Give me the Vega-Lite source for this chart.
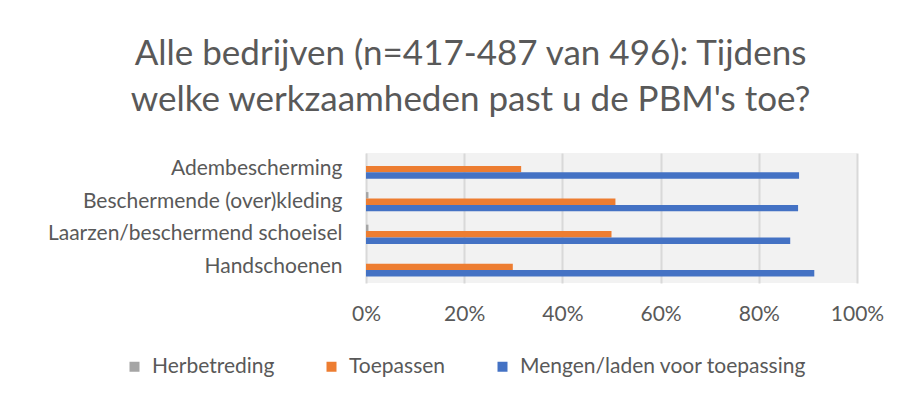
{
  "$schema": "https://vega.github.io/schema/vega-lite/v6.json",
  "width": 491,
  "height": 130,
  "autosize": {"type": "none"},
  "padding": {"left": 366, "top": 153, "right": 49, "bottom": 117},
  "background": "#ffffff",
  "config": {
    "font": "Lato",
    "view": {"fill": "#f2f2f2", "stroke": null}
  },
  "title": {
    "text": ["Alle bedrijven (n=417-487 van 496): Tijdens", "welke werkzaamheden past u de PBM's toe?"],
    "anchor": "middle",
    "dx": -141,
    "fontSize": 35,
    "font": "Lato",
    "fontWeight": "normal",
    "color": "#595959",
    "lineHeight": 46,
    "offset": 35
  },
  "data": {
    "values": [
      {"categorie": "Adembescherming", "activiteit": "Herbetreding", "waarde": 0.0},
      {"categorie": "Adembescherming", "activiteit": "Toepassen", "waarde": 0.316},
      {"categorie": "Adembescherming", "activiteit": "Mengen/laden voor toepassing", "waarde": 0.882},
      {"categorie": "Beschermende (over)kleding", "activiteit": "Herbetreding", "waarde": 0.005},
      {"categorie": "Beschermende (over)kleding", "activiteit": "Toepassen", "waarde": 0.508},
      {"categorie": "Beschermende (over)kleding", "activiteit": "Mengen/laden voor toepassing", "waarde": 0.88},
      {"categorie": "Laarzen/beschermend schoeisel", "activiteit": "Herbetreding", "waarde": 0.005},
      {"categorie": "Laarzen/beschermend schoeisel", "activiteit": "Toepassen", "waarde": 0.5},
      {"categorie": "Laarzen/beschermend schoeisel", "activiteit": "Mengen/laden voor toepassing", "waarde": 0.864},
      {"categorie": "Handschoenen", "activiteit": "Herbetreding", "waarde": 0.0},
      {"categorie": "Handschoenen", "activiteit": "Toepassen", "waarde": 0.299},
      {"categorie": "Handschoenen", "activiteit": "Mengen/laden voor toepassing", "waarde": 0.913}
    ]
  },
  "mark": {"type": "bar"},
  "encoding": {
    "y": {
      "field": "categorie",
      "type": "nominal",
      "sort": ["Adembescherming", "Beschermende (over)kleding", "Laarzen/beschermend schoeisel", "Handschoenen"],
      "scale": {"paddingInner": 0.41, "paddingOuter": 0.2},
      "axis": {
        "title": null,
        "domain": false,
        "ticks": false,
        "labelPadding": 24,
        "labelFontSize": 21,
        "labelColor": "#595959",
        "labelFont": "Lato",
        "labelLimit": 400
      }
    },
    "yOffset": {
      "field": "activiteit",
      "type": "nominal",
      "sort": ["Herbetreding", "Toepassen", "Mengen/laden voor toepassing"],
      "scale": {"paddingInner": 0, "paddingOuter": 0}
    },
    "x": {
      "field": "waarde",
      "type": "quantitative",
      "scale": {"domain": [0, 1], "nice": false},
      "axis": {
        "title": null,
        "format": "%",
        "values": [0, 0.2, 0.4, 0.6, 0.8, 1],
        "domain": false,
        "ticks": false,
        "grid": true,
        "gridColor": "#d9d9d9",
        "gridWidth": 2,
        "labelFlush": false,
        "labelPadding": 20,
        "labelFontSize": 21,
        "labelColor": "#595959",
        "labelFont": "Lato"
      }
    },
    "color": {
      "field": "activiteit",
      "type": "nominal",
      "sort": ["Herbetreding", "Toepassen", "Mengen/laden voor toepassing"],
      "scale": {
        "domain": ["Herbetreding", "Toepassen", "Mengen/laden voor toepassing"],
        "range": ["#a5a5a5", "#ed7d31", "#4472c4"]
      },
      "legend": {
        "title": null,
        "orient": "none",
        "direction": "horizontal",
        "legendX": -242,
        "legendY": 203,
        "symbolType": "square",
        "symbolSize": 100,
        "symbolStrokeWidth": 0,
        "labelFontSize": 21,
        "labelColor": "#595959",
        "labelFont": "Lato",
        "labelOffset": 7,
        "columnPadding": 46,
        "labelLimit": 400
      }
    }
  }
}
